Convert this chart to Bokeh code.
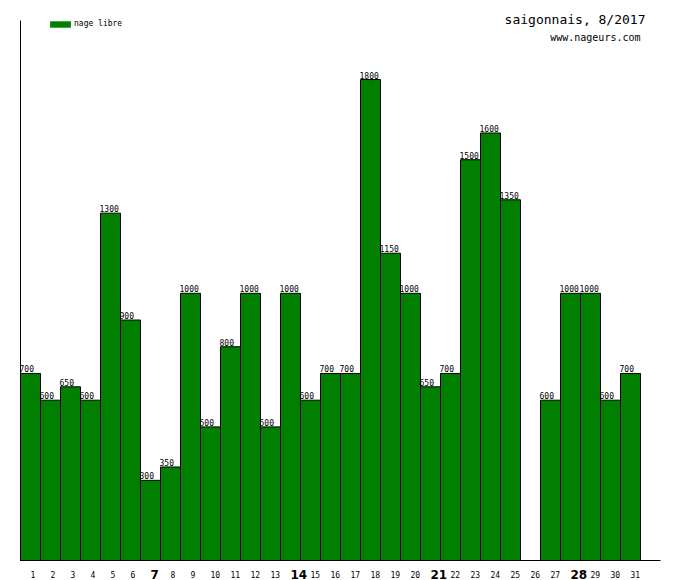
from bokeh.plotting import figure
from bokeh.models import (ColumnDataSource, LabelSet, Label, Legend, LegendItem, Range1d)
from bokeh.core.properties import value
from bokeh.embed import file_html
from bokeh.resources import INLINE

# ---- data ----
days = list(range(1, 32))
values = [700, 600, 650, 600, 1300, 900, 300, 350, 1000, 500,
          800, 1000, 500, 1000, 600, 700, 700, 1800, 1150, 1000,
          650, 700, 1500, 1600, 1350, 0, 600, 1000, 1000, 600, 700]
week_days = [7, 14, 21, 28]
series_name = "nage libre"
title_text = "saigonnais, 8/2017"
site_text = "www.nageurs.com"

GREEN = "#007f00"
FONT = "DejaVu Sans Mono"

W, H = 680, 580
# plotting area inside the canvas (pixels)
L, R, T, B = 20, 660, 20, 560
X_LO, X_HI = 0.5, 32.5          # x extent of the axis
Y_HI = 2021                      # value at the top of the y axis

kx = (R - L) / (X_HI - X_LO)
ky = (B - T) / Y_HI
x_range = Range1d(X_LO - L / kx, X_HI + (W - R) / kx)
y_range = Range1d(-(H - B) / ky, Y_HI + T / ky)

p = figure(width=W, height=H, output_backend="svg", toolbar_location=None,
           x_range=x_range, y_range=y_range,
           min_border_left=0, min_border_right=0, min_border_top=0, min_border_bottom=0)
p.axis.visible = False
p.outline_line_color = None
p.xgrid.visible = False
p.ygrid.visible = False
p.background_fill_color = "white"
p.border_fill_color = "white"

bd = [d for d, v in zip(days, values) if v > 0]
bv = [v for v in values if v > 0]
src = ColumnDataSource(dict(x=bd, top=bv, lx=[d - 0.5 for d in bd],
                            txt=[str(v) for v in bv]))

p.add_layout(LabelSet(x="lx", y="top", text="txt", source=src, x_offset=-1, y_offset=1,
                      text_font=value(FONT), text_font_size="8px", text_align="left",
                      text_baseline="bottom", text_color="black"))

p.vbar(x="x", top="top", width=1.0, bottom=0, source=src,
       fill_color=GREEN, line_color="black", line_width=1)

# axis lines
p.segment(x0=[X_LO, X_LO], y0=[0, 0], x1=[X_HI, X_LO], y1=[0, Y_HI],
          line_color="black", line_width=1)

# legend (swatch without outline)
dummy = p.vbar(x=[float("nan")], top=[float("nan")], width=1,
               fill_color=GREEN, line_color=None)
legend = Legend(items=[LegendItem(label=series_name, renderers=[dummy])],
                location=(47, 552), orientation="vertical",
                glyph_width=26, glyph_height=8, label_height=8, label_width=10,
                label_standoff=1, padding=0, margin=0, spacing=0,
                border_line_color=None, background_fill_alpha=0,
                label_text_font=FONT, label_text_font_size="8px",
                label_text_color="black", label_text_baseline="middle")
p.add_layout(legend, "center")

# x tick labels (left-aligned at the bar centre)
for d in days:
    bold = d in week_days
    p.add_layout(Label(x=d, y=H - 573.5, x_units="data", y_units="screen", text=str(d),
                       text_font="DejaVu Sans" if bold else FONT,
                       text_font_size="12px" if bold else "8px",
                       text_font_style="bold" if bold else "normal",
                       text_color="black",
                       text_align="left", text_baseline="middle"))

# titles
p.add_layout(Label(x=645, y=H - 19, x_units="screen", y_units="screen", text=title_text,
                   text_font=FONT, text_font_size="13px", text_align="right",
                   text_color="black", text_baseline="middle"))
p.add_layout(Label(x=640, y=H - 37, x_units="screen", y_units="screen", text=site_text,
                   text_font=FONT, text_font_size="10px", text_align="right",
                   text_color="black", text_baseline="middle"))

open("out.html", "w").write(file_html(p, INLINE))
